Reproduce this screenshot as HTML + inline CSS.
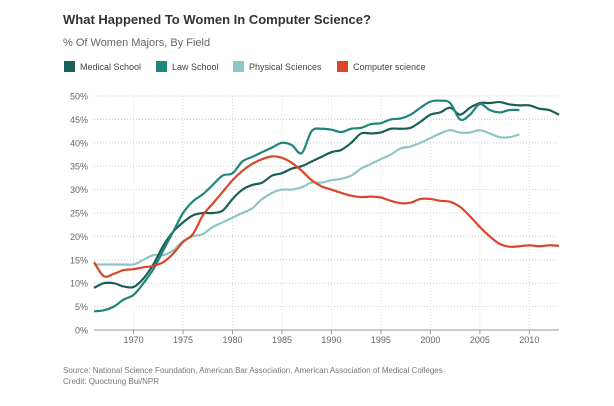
<!DOCTYPE html>
<html><head><meta charset="utf-8"><style>
body{margin:0;background:#fff;width:614px;height:401px;overflow:hidden;font-family:"Liberation Sans",sans-serif}
</style></head><body>
<svg id="c" width="614" height="401" xmlns="http://www.w3.org/2000/svg">
<text x="63" y="24" font-size="13" font-weight="bold" fill="#333">What Happened To Women In Computer Science?</text>
<text x="63" y="46" font-size="11" fill="#666">% Of Women Majors, By Field</text>
<g id="legend"></g>
<g id="grid"></g>
<g id="series"></g>
<text x="63" y="373" font-size="8" fill="#777">Source: National Science Foundation, American Bar Association, American Association of Medical Colleges</text>
<text x="63" y="384" font-size="8" fill="#777">Credit: Quoctrung Bui/NPR</text>
</svg>
<script>
const startYear = 1966;
const medical = [9,10,10,9.3,9.2,11,14,18,21,23,24.5,25,25,25.5,28,30,31,31.5,33,33.5,34.5,35,36,37,38,38.5,40,42,42,42.2,43,43,43.2,44.5,46,46.5,47.5,46,47.5,48.5,48.5,48.7,48.2,48,48,47.3,47,46];
const law = [4,4.2,5,6.5,7.5,10,13,17,21,25,27.5,29,31,33,33.5,36,37,38,39,40,39.5,37.8,42.5,43,42.8,42.3,43,43.2,44,44.2,45,45.2,46,47.5,48.8,49,48.5,45,46,48.3,47,46.5,47,47];
const physical = [14,14,14,14,14,15,16,16,17,19,20,20.5,22,23,24,25,26,28,29.3,30,30,30.5,31.5,31.5,32,32.3,33,34.5,35.5,36.5,37.5,38.8,39.2,40,41,42,42.7,42.2,42.2,42.7,42,41.2,41.2,41.8];
const cs = [14.5,11.5,12,12.8,13,13.4,13.7,14.5,16.3,18.8,20.5,24.5,27,29.5,32,34,35.5,36.5,37.1,36.8,35.7,34,32,30.7,30,29.3,28.7,28.4,28.5,28.3,27.6,27.1,27.2,28,28,27.6,27.4,26.3,24.3,22,20,18.4,17.8,17.9,18.1,17.9,18.1,18];
const yTicks = [0,5,10,15,20,25,30,35,40,45,50];
const xTicks = [1970,1975,1980,1985,1990,1995,2000,2005,2010];
const seriesNames = ["Medical School","Law School","Physical Sciences","Computer science"];
const colors = ["#1b5e58","#1f857a","#8fc5c3","#d9462a"];
const NS="http://www.w3.org/2000/svg";
const x = yr => 94 + (yr-1966)*(559-94)/(2013-1966);
const y = v => 330 - v*(330-96)/50;
function mk(t,a,p){const e=document.createElementNS(NS,t);for(const k in a)e.setAttribute(k,a[k]);p.appendChild(e);return e;}
const grid=document.getElementById('grid');
yTicks.forEach(v=>{
  const l=mk('line',{x1:94,x2:559,y1:y(v),y2:y(v),stroke:v===0?'#999':'#ccc','stroke-dasharray':v===0?'':'1,2'},grid);
  
  
  const t=mk('text',{x:88,y:y(v)+3.5,'text-anchor':'end','font-size':9,fill:'#666'},grid);
  t.textContent=v+'%';
  
  
});
xTicks.forEach(yr=>{
  const l=mk('line',{x1:x(yr),x2:x(yr),y1:96,y2:330,stroke:'#ddd','stroke-dasharray':'1,2'},grid);
  
  
  const tk=mk('line',{x1:x(yr),x2:x(yr),y1:330,y2:334,stroke:'#999'},grid);
  
  
  const t=mk('text',{x:x(yr),y:343,'text-anchor':'middle','font-size':9,fill:'#666'},grid);
  t.textContent=yr;
  
  
});
function path(arr){
  const p=arr.map((v,i)=>[x(startYear+i),y(v)]);
  let d='M'+p[0][0]+','+p[0][1];
  for(let i=0;i<p.length-1;i++){
    const p0=p[i-1]||p[i],p1=p[i],p2=p[i+1],p3=p[i+2]||p2;
    const c1=[p1[0]+(p2[0]-p0[0])/6,p1[1]+(p2[1]-p0[1])/6];
    const c2=[p2[0]-(p3[0]-p1[0])/6,p2[1]-(p3[1]-p1[1])/6];
    d+=`C${c1[0]},${c1[1]} ${c2[0]},${c2[1]} ${p2[0]},${p2[1]}`;
  }
  return d;
}
const sg=document.getElementById('series');
const all=[physical,medical,law,cs], idx=[2,0,1,3];
const snames=['physical-sciences-line','medical-school-line','law-school-line','computer-science-line'];
all.forEach((arr,k)=>{
  const e=mk('path',{d:path(arr),fill:'none',stroke:colors[idx[k]],'stroke-width':2.2,'stroke-linejoin':'round'},sg);
  
  
});
const lg=document.getElementById('legend');
const lx=[64,156,233,337];
seriesNames.forEach((n,i)=>{
  const r=mk('rect',{x:lx[i],y:61,width:11,height:11,fill:colors[i]},lg);
  
  
  const t=mk('text',{x:lx[i]+16,y:70,'font-size':9,fill:'#444'},lg);
  t.textContent=n;
  
  
});
</script>
</body></html>
